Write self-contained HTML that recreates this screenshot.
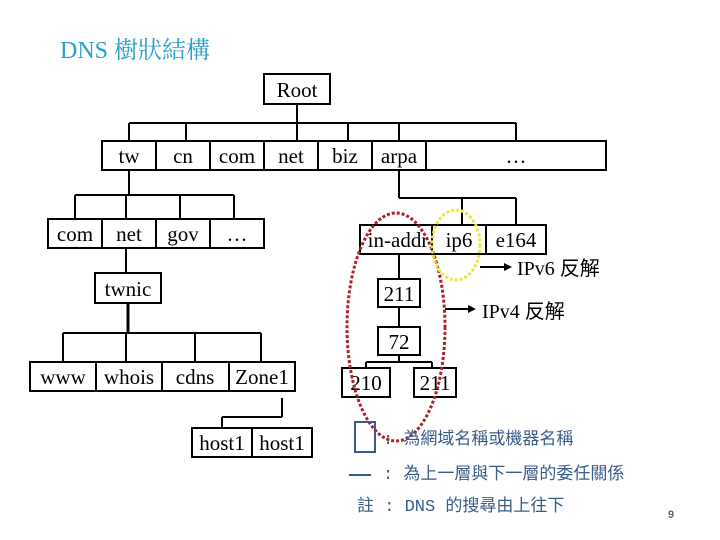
<!DOCTYPE html>
<html><head><meta charset="utf-8"><style>
html,body{margin:0;padding:0;background:#fff;}
svg{display:block;}
.t{font-family:"Liberation Serif","Noto Serif CJK SC",serif;font-size:21px;fill:#000;text-anchor:middle;}
.c{font-family:"Liberation Serif","Noto Sans CJK TC",serif;font-size:20px;fill:#000;}
.n{font-family:"Liberation Mono","WenQuanYi Zen Hei",monospace;font-size:17px;fill:#3a5a8a;}
</style></head><body>
<svg width="720" height="540" viewBox="0 0 720 540" xmlns="http://www.w3.org/2000/svg">
<text x="60" y="58" style="font-family:'Liberation Serif','Noto Serif CJK TC',serif;font-size:24px;fill:#2aa0c8;">DNS 樹狀結構</text>
<g fill="#fff" stroke="#000" stroke-width="2">
<rect x="264" y="74" width="66" height="30"/>
<rect x="102" y="141" width="54" height="29"/><rect x="156" y="141" width="54" height="29"/><rect x="210" y="141" width="54" height="29"/><rect x="264" y="141" width="54" height="29"/><rect x="318" y="141" width="54" height="29"/><rect x="372" y="141" width="54" height="29"/><rect x="426" y="141" width="180" height="29"/>
<rect x="48" y="219" width="54" height="29"/><rect x="102" y="219" width="54" height="29"/><rect x="156" y="219" width="54" height="29"/><rect x="210" y="219" width="54" height="29"/>
<rect x="95" y="273" width="66" height="30"/>
<rect x="30" y="362" width="66" height="29"/><rect x="96" y="362" width="66" height="29"/><rect x="162" y="362" width="67" height="29"/><rect x="229" y="362" width="66" height="29"/>
<rect x="192" y="428" width="60" height="29"/><rect x="252" y="428" width="60" height="29"/>
<rect x="360" y="225" width="72" height="29"/><rect x="432" y="225" width="54" height="29"/><rect x="486" y="225" width="60" height="29"/>
<rect x="378" y="279" width="42" height="28"/><rect x="378" y="327" width="42" height="28"/>
<rect x="342" y="368" width="48" height="29"/><rect x="414" y="368" width="42" height="29"/>
</g>
<g fill="none" stroke="#000" stroke-width="2">
<path d="M297 104V123M129 123H348M129 123V141M186 123V141M348 123V141M297 123V141M348 123H516M399 123V141M516 123V141"/>
<path d="M129 170V195M75 195H234M75 195V219M126 195V219M180 195V219M234 195V219"/>
<path d="M126 248V273"/>
<path d="M128 303V333" stroke-width="3"/>
<path d="M63 333H261M63 333V362M126 333V362M195 333V362M261 333V362"/>
<path d="M282 398V417M222 417H282M222 417V428"/>
<path d="M399 170V198M399 198H516M462 198V225M516 198V225"/>
<path d="M399 254V279M399 307V327M399 355V362M366 362H432M366 362V368M432 362V368"/>
<path d="M480 267H506M445 309H470"/>
</g>
<path d="M512 267L504 263V271Z M476 309L468 305V313Z" fill="#000"/>
<text class="t" x="297" y="97">Root</text>
<text class="t" x="129" y="163">tw</text><text class="t" x="183" y="163">cn</text><text class="t" x="237" y="163">com</text><text class="t" x="291" y="163">net</text><text class="t" x="345" y="163">biz</text><text class="t" x="399" y="163">arpa</text><text class="t" x="516" y="163">…</text>
<text class="t" x="75" y="241">com</text><text class="t" x="129" y="241">net</text><text class="t" x="183" y="241">gov</text><text class="t" x="237" y="241">…</text>
<text class="t" x="128" y="296">twnic</text>
<text class="t" x="63" y="384">www</text><text class="t" x="129" y="384">whois</text><text class="t" x="195" y="384">cdns</text><text class="t" x="262" y="384">Zone1</text>
<text class="t" x="222" y="450">host1</text><text class="t" x="282" y="450">host1</text>
<text class="t" x="398" y="247">in-addr</text><text class="t" x="459" y="247">ip6</text><text class="t" x="516" y="247">e164</text>
<text class="t" x="399" y="301">211</text><text class="t" x="399" y="349">72</text>
<text class="t" x="366" y="390">210</text><text class="t" x="435" y="390">211</text>
<text class="c" x="517" y="275">IPv6 反解</text>
<text class="c" x="482" y="318">IPv4 反解</text>
<ellipse cx="396" cy="327" rx="49" ry="114" fill="none" stroke="#b0202a" stroke-width="3" stroke-dasharray="3 2"/>
<ellipse cx="456" cy="245" rx="24" ry="35" fill="none" stroke="#e8e840" stroke-width="3" stroke-dasharray="3 2"/>
<rect x="355" y="422" width="20" height="30" fill="none" stroke="#3a5a8a" stroke-width="2"/>
<text class="n" x="383" y="444">: 為網域名稱或機器名稱</text>
<path d="M349 475H371" stroke="#3a5a8a" stroke-width="2"/>
<text class="n" x="383" y="479">: 為上一層與下一層的委任關係</text>
<text class="n" x="357" y="511">註 : DNS 的搜尋由上往下</text>
<text x="668" y="518" style="font-family:'Liberation Sans',sans-serif;font-size:11px;font-weight:bold;fill:#666;">9</text>
</svg>
</body></html>
